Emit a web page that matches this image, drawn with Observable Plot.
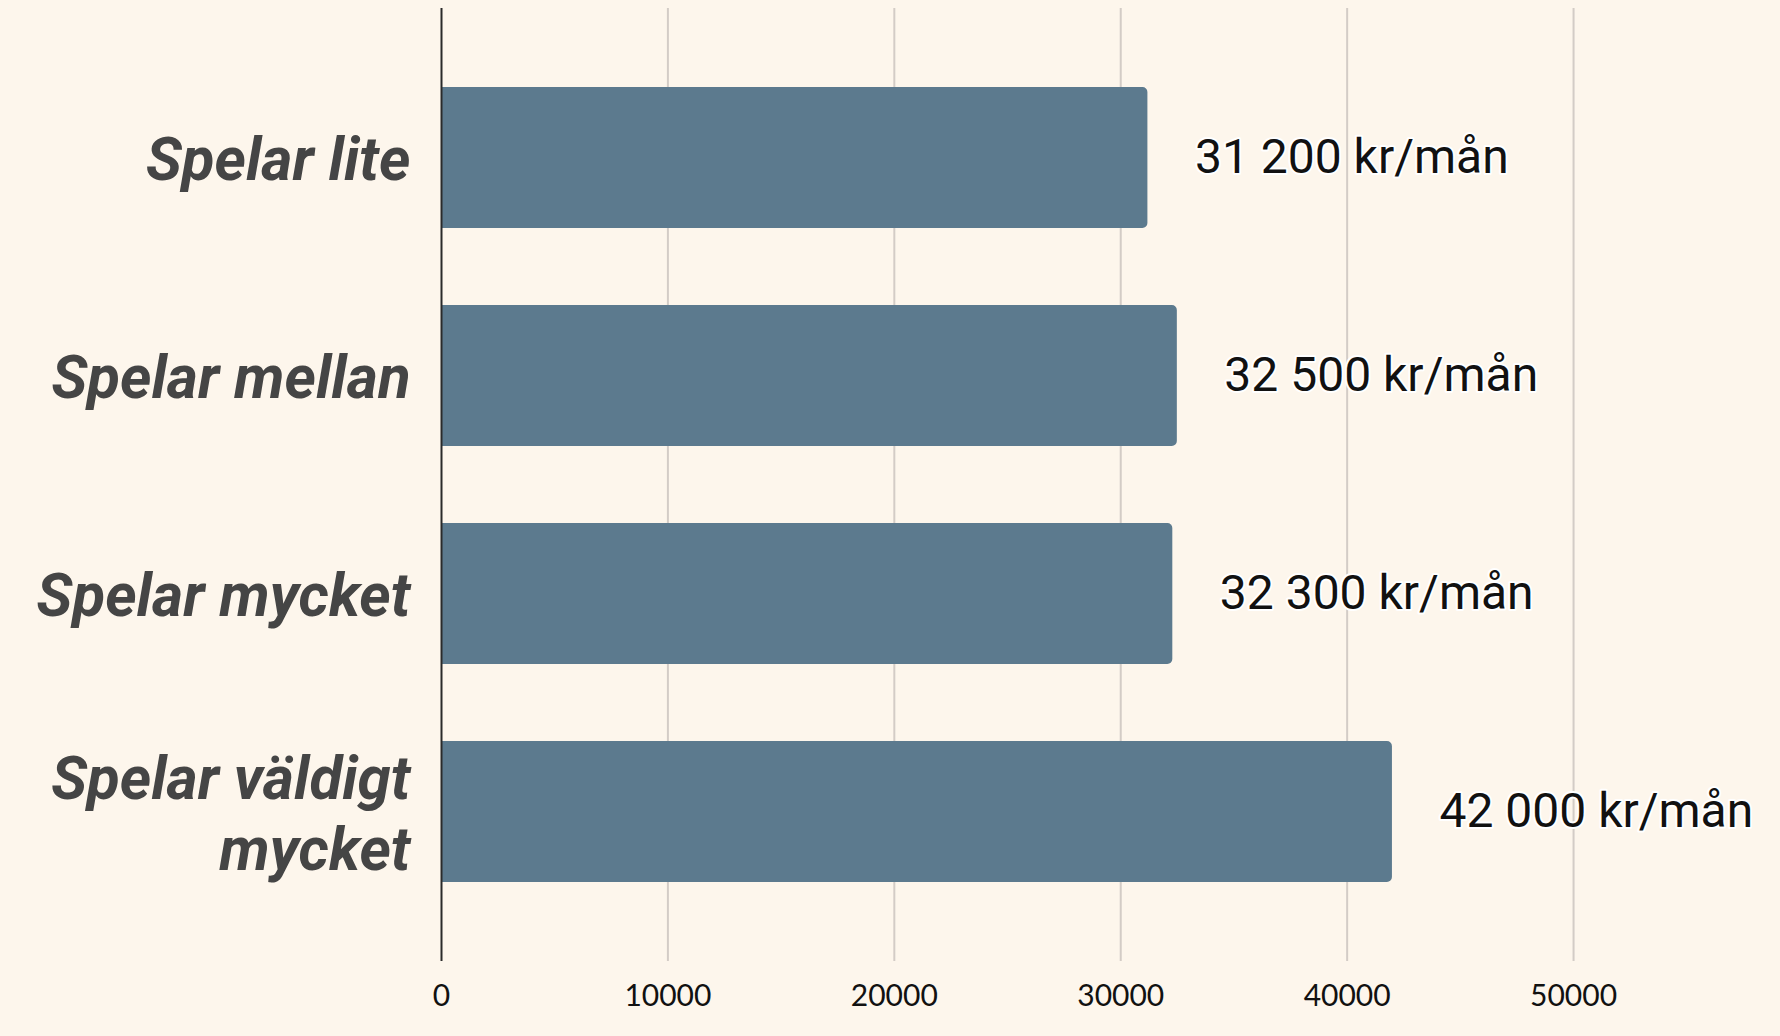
<!DOCTYPE html>
<html>
<head>
<meta charset="utf-8">
<script src="https://cdn.jsdelivr.net/npm/d3@7"></script>
<script src="https://cdn.jsdelivr.net/npm/@observablehq/plot@0.6"></script>
<style>
  html, body { margin: 0; padding: 0; background: #FDF6EC; }
  #chart svg { display: block; }
</style>
</head>
<body>
<div id="chart"></div>
<script>
const categories = ["Spelar lite", "Spelar mellan", "Spelar mycket", "Spelar väldigt mycket"];
const incomes = [31200, 32500, 32300, 42000];
const valueLabels = ["31 200 kr/mån", "32 500 kr/mån", "32 300 kr/mån", "42 000 kr/mån"];
const xTicks = [0, 10000, 20000, 30000, 40000, 50000];

const data = categories.map((c, i) => ({category: c, income: incomes[i], label: valueLabels[i]}));

const chart = Plot.plot({
  width: 1780,
  height: 1036,
  marginLeft: 441,
  marginRight: 0,
  marginTop: 8,
  marginBottom: 75,
  style: {background: "#FDF6EC", fontFamily: "Roboto, sans-serif"},
  x: {domain: [0, 59140], axis: null},
  y: {domain: categories, padding: 0.355, axis: null},
  marks: [
    Plot.ruleX(xTicks.slice(1), {stroke: "#D3CCC6", strokeWidth: 2}),
    Plot.barX(data, {
      x1: 0, x2: "income", y: "category", fill: "#5C7A8E",
      rx2y1: 5, rx2y2: 5
    }),
    Plot.ruleX([0], {stroke: "#2a2a2a", strokeWidth: 2}),
    Plot.axisX(xTicks, {
      anchor: "bottom", tickSize: 0, tickPadding: 23, fontSize: 30,
      fontFamily: "Lato, sans-serif", fill: "#111", label: null,
      tickFormat: d => String(d)
    }),
    Plot.text(data, {
      x: "income", y: "category", text: "label", textAnchor: "start", dx: 47,
      fontSize: 48, fill: "#111", stroke: "white", strokeWidth: 4,
      fontFamily: "Roboto, sans-serif"
    }),
    Plot.text(data, {
      x: 0, y: "category", text: "category", textAnchor: "end", dx: -31,
      lineWidth: 8, lineHeight: 1.17, lineAnchor: "middle",
      fontSize: 60, fontWeight: "bold", fontStyle: "italic", fill: "#454545",
      fontFamily: "Roboto, sans-serif"
    })
  ]
});
document.getElementById("chart").appendChild(chart);
</script>
</body>
</html>
